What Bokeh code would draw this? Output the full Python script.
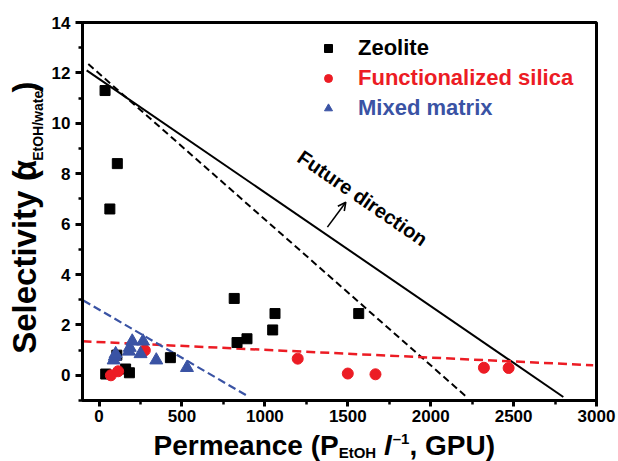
import math
from bokeh.plotting import figure
from bokeh.layouts import row, column
from bokeh.models import (Range1d, SingleIntervalTicker, Label, Arrow, OpenHead,
                          Legend, LegendItem)
from bokeh.embed import file_html
from bokeh.resources import INLINE

# ---------------- data ----------------
zeolite_x = [36, 65, 110, 40, 107, 160, 183, 430, 815, 832, 892, 1047, 1061, 1566]
zeolite_y = [11.3, 6.6, 8.4, 0.05, 0.8, 0.25, 0.1, 0.7, 3.05, 1.3, 1.45, 1.8, 2.45, 2.45]

silica_x = [71, 115, 276, 1198, 1500, 1667, 2321, 2470]
silica_y = [0.0, 0.16, 0.99, 0.66, 0.07, 0.04, 0.3, 0.29]

mixed_x = [88, 95, 100, 180, 185, 200, 250, 265, 345, 530]
mixed_y = [0.6, 0.75, 0.85, 0.95, 1.1, 1.35, 0.85, 1.35, 0.6, 0.3]

# trend / bound lines (end points)
future_x = [-75, 2800]
future_y = [12.1, -0.86]
bound_x = [-65, 2210]
bound_y = [12.35, -0.82]
silica_trend_x = [-100, 2980]
silica_trend_y = [1.35, 0.40]
mixed_trend_x = [-95, 895]
mixed_trend_y = [2.97, -0.82]

arrow_x = [1377, 1488]
arrow_y = [5.88, 6.87]

x_ticks_interval = 500
y_ticks_interval = 2

RED = "#ec1c24"
BLUE = "#3a53a4"
FONT = "Liberation Sans"

# ---------------- sizes ----------------
XMIN, XMAX, YMIN, YMAX = -100, 3000, -1, 14
TOTAL_W, TOTAL_H = 618, 461
YLAB_W = 46                 # column holding the y-axis title
MAIN_H = 429                # main plot height (frame bottom at 400)
XLAB_H = TOTAL_H - MAIN_H   # strip holding the x-axis title
BL, BR, BT, BB = 36, 22, 22, 29
MAIN_W = TOTAL_W - YLAB_W
FW, FH = MAIN_W - BL - BR, MAIN_H - BT - BB

p = figure(width=MAIN_W, height=MAIN_H, output_backend="svg", toolbar_location=None,
           x_range=Range1d(XMIN, XMAX), y_range=Range1d(YMIN, YMAX),
           min_border_left=BL, min_border_right=BR, min_border_top=BT,
           min_border_bottom=BB)
p.grid.visible = False
p.outline_line_color = "black"
p.outline_line_width = 3
p.background_fill_color = "white"
p.border_fill_color = "white"

p.xaxis.ticker = SingleIntervalTicker(interval=x_ticks_interval, num_minor_ticks=2)
p.yaxis.ticker = SingleIntervalTicker(interval=y_ticks_interval, num_minor_ticks=2)
for ax in (p.xaxis, p.yaxis):
    ax.axis_line_width = 3
    ax.axis_line_color = "black"
    ax.major_tick_line_width = 3
    ax.minor_tick_line_width = 2.5
    ax.major_tick_in = 0
    ax.minor_tick_in = 0
    ax.major_label_text_font = FONT
    ax.major_label_text_font_style = "bold"
    ax.major_label_text_font_size = "17px"
    ax.major_label_text_color = "black"
p.xaxis.major_tick_out = 6
p.xaxis.minor_tick_out = 4
p.xaxis.major_label_standoff = 3
p.yaxis.major_tick_out = 7
p.yaxis.minor_tick_out = 4
p.yaxis.major_label_standoff = 5

# ---------------- lines ----------------
p.line(future_x, future_y, line_color="black", line_width=2)
p.line(bound_x, bound_y, line_color="black", line_width=2, line_dash="7 4")
p.line(silica_trend_x, silica_trend_y, line_color=RED, line_width=2.5, line_dash="9 5")
p.line(mixed_trend_x, mixed_trend_y, line_color=BLUE, line_width=2.2, line_dash="8 4")

# ---------------- points ----------------
rz = p.scatter(zeolite_x, zeolite_y, marker="square", size=10, color="black")
rs = p.scatter(silica_x, silica_y, marker="circle", size=11, color=RED)
rm = p.scatter(mixed_x, mixed_y, marker="triangle", size=13, color=BLUE)

p.add_layout(Arrow(end=OpenHead(size=8, line_width=1.6, line_color="black"),
                   x_start=arrow_x[0], y_start=arrow_y[0],
                   x_end=arrow_x[1], y_end=arrow_y[1],
                   line_width=1.6, line_color="black"))

# "Future direction" (placed by page pixel -> data conversion)
def dx(px):
    return XMIN + (px - YLAB_W - BL) / FW * (XMAX - XMIN)

def dy(py):
    return YMIN + (BT + FH - py) / FH * (YMAX - YMIN)

p.add_layout(Label(x=dx(362), y=dy(197.5), text="Future direction",
                   angle=-math.radians(34.5), text_font=FONT,
                   text_font_style="bold", text_font_size="20px",
                   text_color="black", text_align="center",
                   text_baseline="middle"))

# ---------------- legends ----------------
def add_legend(renderer, text, color, center_py):
    gh = 26
    leg = Legend(items=[LegendItem(label=text, renderers=[renderer])],
                 location=(318 - YLAB_W - BL, (BT + FH) - center_py - gh / 2),
                 padding=0, margin=0, spacing=0,
                 glyph_width=20, glyph_height=gh, label_height=gh,
                 label_standoff=20,
                 label_text_font=FONT, label_text_font_style="bold",
                 label_text_font_size="22px", label_text_color=color,
                 border_line_alpha=0, background_fill_alpha=0)
    p.add_layout(leg)

add_legend(rz, "Zeolite", "black", 48)
add_legend(rs, "Functionalized silica", RED, 78)
add_legend(rm, "Mixed matrix", BLUE, 108)

# ---------------- axis titles (text panels) ----------------
WID = {' ': 278, '(': 333, ')': 333, ',': 278, '/': 278, '–': 556, '1': 556,
       'E': 667, 'G': 778, 'H': 722, 'O': 778, 'P': 667, 'S': 667, 'U': 722,
       'a': 556, 'c': 556, 'e': 556, 'i': 278, 'l': 278, 'm': 889, 'n': 611,
       'r': 389, 't': 333, 'v': 556, 'w': 778, 'y': 556, 'α': 600}
MID = 0.35   # baseline sits this many em below the text's vertical middle

def tw(s, size):
    return sum(WID.get(ch, 556) for ch in s) / 1000.0 * size

def text_panel(w, h):
    f = figure(width=w, height=h, output_backend="svg", toolbar_location=None,
               x_range=Range1d(0, w), y_range=Range1d(0, h),
               x_axis_location=None, y_axis_location=None,
               min_border_left=0, min_border_right=0, min_border_top=0,
               min_border_bottom=0)
    f.grid.visible = False
    f.outline_line_color = None
    f.background_fill_color = "white"
    f.border_fill_color = "white"
    return f

def put(fig, text, x, y, size, angle=0.0, style="bold"):
    fig.add_layout(Label(x=x, y=y, text=text, angle=angle, text_font=FONT,
                         text_font_style=style, text_font_size=f"{size}px",
                         text_color="black", text_align="left",
                         text_baseline="middle"))

# y-axis title: baseline x (page px), start y (page px from top)
yfig = text_panel(YLAB_W, MAIN_H)
YS, YSUB = 33, 14
rot = math.pi / 2
def put_y(text, base_x, start_py, size):
    put(yfig, text, base_x - MID * size, MAIN_H - start_py, size, angle=rot)

put_y("Selectivity (", 36, 376, YS)
put_y("α", 36, 179, YS)
put_y("EtOH/water", 42, 157, YSUB)
put_y(")", 36, 157 - tw("EtOH/water", YSUB) - 2, YS)

# x-axis title: start x (page px), baseline y (page px from top)
xfig = text_panel(TOTAL_W, XLAB_H)
XS, XSUB = 28, 15
def put_x(text, start_px, base_py, size, style="bold"):
    put(xfig, text, start_px, TOTAL_H - (base_py - MID * size), size, style=style)

xb = 454.7
x0 = 153
s1 = "Permeance (P"
put_x(s1, x0, xb, XS)
x1 = x0 + tw(s1, XS)
put_x("EtOH", x1, 457.5, XSUB)
x2 = x1 + tw("EtOH", XSUB) + tw(" ", XS)
put_x("l", x2, xb, XS, style="bold italic")
x3 = x2 + tw("l", XS) + 1
put_x("–1", x3, 443, XSUB)
x4 = x3 + tw("–1", XSUB)
put_x(", GPU)", x4, xb, XS)

layout = column(row(yfig, p, spacing=0), xfig, spacing=0)
open("out.html", "w").write(file_html(layout, INLINE))
